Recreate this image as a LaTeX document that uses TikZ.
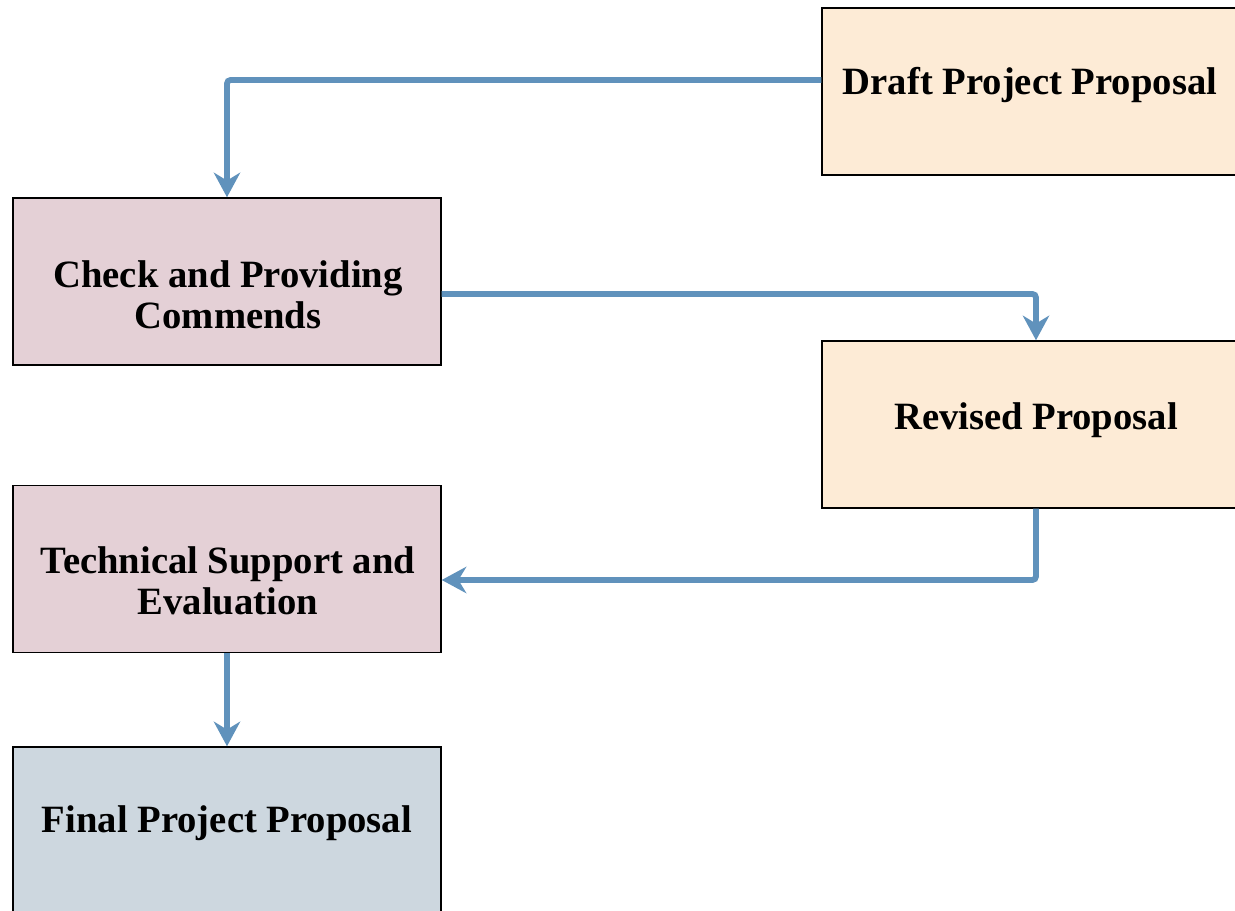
\documentclass[tikz,border=0pt]{standalone}
\usepackage{fontspec}
\setmainfont{Liberation Serif}
\usetikzlibrary{arrows.meta}
\definecolor{flowblue}{RGB}{96,146,188}
\definecolor{draftfill}{RGB}{253,235,214}
\definecolor{checkfill}{RGB}{228,208,214}
\definecolor{finalfill}{RGB}{205,215,223}
\begin{document}
\begin{tikzpicture}[x=0.02cm,y=-0.02cm,
	box/.style={draw=black, line width=0.85pt, minimum width=8.56cm, minimum height=3.34cm, inner sep=0pt},
	boxtext/.style={anchor=base, align=center, inner sep=0pt, font=\fontsize{22}{23.5}\selectfont\bfseries},
	flow/.style={flowblue, line width=3.3pt, rounded corners=2pt, -{Stealth[length=14pt, width=15pt, inset=4.5pt]}}]
				\useasboundingbox (0,0) rectangle (1235,911);
				\clip (0,0) rectangle (1235,911);
				
				% boxes
				\node[box, fill=draftfill] (draft) at (1036,91.5) {};
				\node[box, fill=checkfill] (check) at (227,281.5) {};
				\node[box, fill=draftfill] (revised) at (1036,424.5) {};
				\node[box, fill=checkfill] (tech) at (227,569) {};
				\node[box, fill=finalfill] (final) at (227,830.5) {};
				
				\node[boxtext] (draftT) at (1030,95) {Draft Project Proposal};
				\node[boxtext] (checkT) at (228,329) {Check and Providing\\Commends};
				\node[boxtext] (revisedT) at (1036,430) {Revised Proposal};
				\node[boxtext] (techT) at (228,615) {Technical Support and\\Evaluation};
				\node[boxtext] (finalT) at (227,833) {Final Project Proposal};
				
				% connectors
				\draw[flow] ([yshift=0.23cm]draft.west) -| (check.north);
				\draw[flow] ([yshift=-0.25cm]check.east) -| (revised.north);
				\draw[flow] (revised.south) |- ([yshift=-0.22cm]tech.east);
				\draw[flow] (tech.south) -- (final.north);
			\end{tikzpicture}
\end{document}
